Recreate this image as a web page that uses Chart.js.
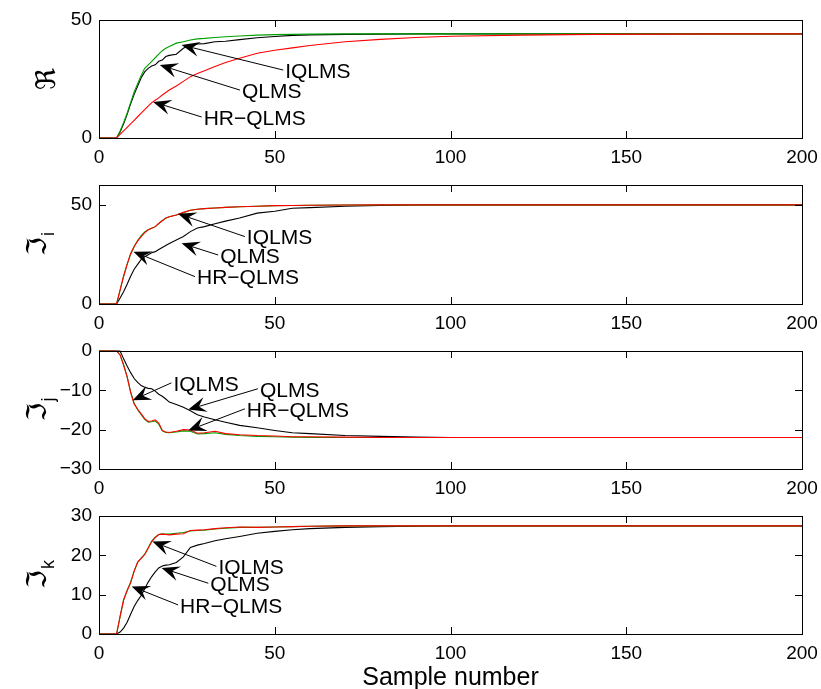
<!DOCTYPE html>
<html>
<head>
<meta charset="utf-8">
<script src="https://cdn.jsdelivr.net/npm/chart.js@4.4.0/dist/chart.umd.min.js"></script>
<style>
  body { margin: 0; background: #fff; width: 821px; height: 689px; position: relative; overflow: hidden; }
  canvas { position: absolute; left: 0; }
</style>
</head>
<body>
<canvas id="c1"></canvas>
<canvas id="c2"></canvas>
<canvas id="c3"></canvas>
<canvas id="c4"></canvas>
<script>
var n = [0,5,6,7,8,9,10,11,12,13,14,15,16,17,18,19,20,22,24,26,28,30,33,36,40,45,50,55,60,70,80,90,100,120,140,160,180,200];

var xTicks = [0, 50, 100, 150, 200];
var names = ['IQLMS', 'QLMS', 'HR\u2212QLMS'];

// panel 1 : real part
var reQLMS  = [0,0,2.5,6,10,14.5,18.5,22,25.5,28,29.5,30.5,31,32.5,33,34.5,35,35.5,38,39.5,39.8,40,40.8,41,41.7,42.5,43,43.5,43.7,43.9,44,44.1,44.1,44.1,44.1,44.1,44.1,44.1];
var reIQLMS = [0,0,3,6.5,10.5,15,19.5,23,26.5,29.5,31,32.5,34,35.5,37,38,38.8,40.2,40.8,41.5,42,42.2,42.6,42.9,43.2,43.6,43.8,43.9,44,44.1,44.1,44.1,44.1,44.1,44.1,44.1,44.1,44.1];
var reHR    = [0,0,1.5,3,4.5,6,7.5,9,10.5,12,13.5,15,16,17,18.2,19.3,20.3,22,24,26,27.3,28.5,30.3,32,33.8,35.9,37.2,38.2,39.2,40.8,41.8,42.6,43.1,43.6,43.9,44,44.1,44.1];
var reTicks = [0, 50];

// panel 2 : i part
var iQLMS  = [0,0,3,6.2,10,14,17.5,20,22.5,23.8,24.8,25.8,26.4,27.5,28.5,29.5,30.5,32.3,34,36.5,38.3,39,40.5,41.8,43.4,45.8,46.8,48.3,48.6,49.3,49.7,49.9,50,50,50,50,50,50];
var iIQLMS = [0,0,7,14,20,25,29,32,34.5,36.3,37.4,38.2,39,40.5,42,43.3,44,44.9,46,47.3,47.8,48.1,48.4,48.7,49,49.3,49.6,49.7,49.8,49.9,50,50,50,50,50,50,50,50];
var iHR    = [0,0,7,14,20,25.5,29,31.8,34,36,37.4,38.2,39,40.6,42,43.4,44,44.9,46.2,47.3,47.8,48.1,48.4,48.7,49,49.3,49.6,49.7,49.8,49.9,50,50,50,50,50,50,50,50];
var iTicks = [0, 50];

// panel 3 : j part
var jQLMS  = [0,0,0,-2,-3.8,-5.5,-7,-8,-8.8,-9.2,-9.5,-9.6,-10.2,-11,-11.5,-12.2,-13,-13.6,-14.3,-15.2,-16.2,-16.8,-17.5,-18.1,-18.9,-19.5,-20.2,-20.8,-21,-21.5,-21.7,-21.9,-22,-22,-22,-22,-22,-22];
var jIQLMS = [0,0,-1,-3.5,-6.6,-10.4,-13.3,-14.9,-16.2,-17.4,-18.1,-18,-17.8,-18.6,-20.3,-20.7,-20.8,-20.6,-20.3,-20.4,-21.1,-21,-20.8,-21.2,-21.5,-21.7,-21.8,-21.9,-22,-22,-22,-22,-22,-22,-22,-22,-22,-22];
var jHR    = [0,0,-1,-3.6,-6.5,-10.5,-13.5,-14.8,-16,-17.2,-17.9,-17.8,-17.5,-18.3,-20.2,-20.6,-20.7,-20.4,-20,-20.1,-20.9,-20.8,-20.4,-21,-21.3,-21.5,-21.6,-21.8,-21.8,-21.9,-22,-22,-22,-22,-22,-22,-22,-22];
var jTicks = [-30, -20, -10, 0];

// panel 4 : k part
var kQLMS  = [0,0,0.5,1.5,3,5,7,8.5,9.8,11.5,13.2,14.6,15.8,16.8,17.3,17.5,17.6,18.2,19.6,22,22.6,23,23.7,24.2,24.8,25.6,26.1,26.5,26.8,27.1,27.3,27.4,27.5,27.5,27.5,27.5,27.5,27.5];
var kIQLMS = [0,0,4.4,8.6,11.1,13.2,16,18.2,19.3,20.3,21.9,23.6,24.6,25.3,25.5,25.4,25.4,25.6,25.8,26.2,26.3,26.4,26.7,26.9,27.1,27.1,27.2,27.3,27.4,27.5,27.5,27.5,27.5,27.5,27.5,27.5,27.5,27.5];
var kHR    = [0,0,4.5,8.7,11,13,16,18.3,19.2,20.2,21.8,23.5,24.5,25.3,25.4,25.3,25.2,25.4,25.5,26.3,26.4,26.5,26.8,27,27.2,27.1,27.2,27.3,27.4,27.5,27.5,27.5,27.5,27.5,27.5,27.5,27.5,27.5];
var kTicks = [0, 10, 20, 30];

// arrows: [tipX, tipY, tailX, tailY] in data units, same order as names
var reArrows = [[23.5,39.4,52.4,28.8],[17.3,30.9,40.1,20.3],[15.4,15.3,29.2,8.9]];
var iArrows  = [[22.5,45.5,41.5,34],[23.5,30.6,33.9,24.7],[9.8,26.4,27.3,13.8]];
var jArrows  = [[9.6,-12.5,20.6,-8.1],[25.4,-14.9,45.2,-9.6],[25.4,-20.2,41.5,-14.7]];
var kArrows  = [[15.2,23.5,33.4,17.2],[17.8,16.8,31.1,12.9],[9.3,12.1,22.5,7.4]];

var panels = [
  { id: 'c1', top: 20,  bottom: 138, main: '\u211C', sub: '',  q: reQLMS, iq: reIQLMS, hr: reHR, ticks: reTicks, min: 0,   max: 50, arrows: reArrows },
  { id: 'c2', top: 185, bottom: 304, main: '\u2111', sub: 'i', q: iQLMS,  iq: iIQLMS,  hr: iHR,  ticks: iTicks,  min: 0,   max: 60, arrows: iArrows },
  { id: 'c3', top: 351, bottom: 469, main: '\u2111', sub: 'j', q: jQLMS,  iq: jIQLMS,  hr: jHR,  ticks: jTicks,  min: -30, max: 0,  arrows: jArrows },
  { id: 'c4', top: 516, bottom: 634, main: '\u2111', sub: 'k', q: kQLMS,  iq: kIQLMS,  hr: kHR,  ticks: kTicks,  min: 0,   max: 30, arrows: kArrows }
];

Chart.defaults.font.family = '"Liberation Sans", Arial, Helvetica, sans-serif';
Chart.defaults.font.size = 19;
Chart.defaults.color = '#000';

var PAD_TOP = 12;
var LEFT = 99, RIGHT = 802, W = 821;

function pts(arr) {
  return n.map(function(x, i) { return { x: x, y: arr[i] }; });
}

function arrow(ctx, tx, ty, sx, sy) {
  var dx = tx - sx, dy = ty - sy;
  var len = Math.sqrt(dx*dx + dy*dy);
  var ux = dx/len, uy = dy/len;
  var hl = 18, hw = 7.5, notch = 11;
  var bx = tx - ux*hl, by = ty - uy*hl;
  var nx = tx - ux*notch, ny = ty - uy*notch;
  ctx.beginPath();
  ctx.moveTo(sx, sy);
  ctx.lineTo(nx, ny);
  ctx.stroke();
  ctx.beginPath();
  ctx.moveTo(tx, ty);
  ctx.lineTo(bx - uy*hw, by + ux*hw);
  ctx.lineTo(nx, ny);
  ctx.lineTo(bx + uy*hw, by - ux*hw);
  ctx.closePath();
  ctx.fill();
}

panels.forEach(function(p, k) {
  var last = k === panels.length - 1;
  var xh = last ? 689 - p.bottom : 32;
  var cv = document.getElementById(p.id);
  var h = PAD_TOP + (p.bottom - p.top) + xh;
  cv.width = W; cv.height = h;
  cv.style.top = (p.top - PAD_TOP) + 'px';

  var deco = {
    id: 'deco' + k,
    afterDatasetsDraw: function(chart) {
      var ctx = chart.ctx, a = chart.chartArea;
      var xs = chart.scales.x, ys = chart.scales.y;
      ctx.save();
      ctx.strokeStyle = '#000';
      ctx.fillStyle = '#000';
      ctx.lineWidth = 1;
      // box
      ctx.strokeRect(Math.round(a.left) + 0.5, Math.round(a.top) + 0.5,
                     Math.round(a.right - a.left), Math.round(a.bottom - a.top));
      // inward ticks
      var tl = 7;
      ctx.beginPath();
      xTicks.forEach(function(v) {
        var px = Math.round(xs.getPixelForValue(v)) + 0.5;
        ctx.moveTo(px, a.bottom); ctx.lineTo(px, a.bottom - tl);
        ctx.moveTo(px, a.top); ctx.lineTo(px, a.top + tl);
      });
      p.ticks.forEach(function(v) {
        var py = Math.round(ys.getPixelForValue(v)) + 0.5;
        ctx.moveTo(a.left, py); ctx.lineTo(a.left + tl, py);
        ctx.moveTo(a.right, py); ctx.lineTo(a.right - tl, py);
      });
      ctx.stroke();

      // annotations
      ctx.font = '21px "Liberation Sans", Arial, sans-serif';
      ctx.textBaseline = 'middle';
      ctx.textAlign = 'left';
      p.arrows.forEach(function(ar, i) {
        var tx = xs.getPixelForValue(ar[0]), ty = ys.getPixelForValue(ar[1]);
        var sx = xs.getPixelForValue(ar[2]), sy = ys.getPixelForValue(ar[3]);
        arrow(ctx, tx, ty, sx, sy);
        ctx.fillText(names[i], sx + 2, sy + 2);
      });

      // y label (fraktur letter with subscript)
      var cy = (a.top + a.bottom) / 2;
      var mainFont = '27px "DejaVu Sans"';
      var subFont = '18px "Liberation Sans", Arial, sans-serif';
      ctx.font = mainFont;
      var w1 = ctx.measureText(p.main).width;
      ctx.font = subFont;
      var w2 = p.sub ? ctx.measureText(p.sub).width : 0;
      ctx.translate(p.sub ? 46 : 55, cy);
      ctx.rotate(-Math.PI / 2);
      ctx.textBaseline = 'alphabetic';
      var x0 = -(w1 + w2) / 2;
      ctx.font = mainFont;
      ctx.fillText(p.main, x0, 0);
      if (p.sub) {
        ctx.font = subFont;
        ctx.fillText(p.sub, x0 + w1 + 1, 8);
      }
      ctx.restore();
    }
  };

  new Chart(cv, {
    type: 'line',
    data: {
      datasets: [
        { label: 'HR-QLMS', data: pts(p.hr), borderColor: '#ff0000' },
        { label: 'IQLMS', data: pts(p.iq), borderColor: '#00a000' },
        { label: 'QLMS', data: pts(p.q), borderColor: '#000000' }
      ]
    },
    options: {
      responsive: false,
      animation: false,
      events: [],
      layout: { padding: { top: PAD_TOP, right: W - RIGHT, left: 0, bottom: 0 } },
      datasets: { line: { borderWidth: 1.1, pointRadius: 0, tension: 0, clip: false, fill: false } },
      plugins: { legend: { display: false }, tooltip: { enabled: false } },
      scales: {
        x: {
          type: 'linear', min: 0, max: 200,
          grid: { display: false, drawTicks: false },
          border: { display: false },
          ticks: { stepSize: 50, padding: 8, maxRotation: 0 },
          afterBuildTicks: function(s) { s.ticks = xTicks.map(function(v) { return { value: v }; }); },
          afterFit: function(s) { s.height = xh; s.paddingLeft = 0; s.paddingRight = 0; },
          title: { display: last, text: 'Sample number', font: { size: 25, lineHeight: 1 }, padding: { top: 0, bottom: -2 } }
        },
        y: {
          min: p.min, max: p.max,
          grid: { display: false, drawTicks: false },
          border: { display: false },
          ticks: {
            padding: 7,
            callback: function(v) { return String(v).replace('-', '\u2212'); }
          },
          afterBuildTicks: function(s) { s.ticks = p.ticks.map(function(v) { return { value: v }; }); },
          afterFit: function(s) { s.width = LEFT; s.paddingTop = 0; s.paddingBottom = 0; }
        }
      }
    },
    plugins: [deco]
  });
});
</script>
</body>
</html>
